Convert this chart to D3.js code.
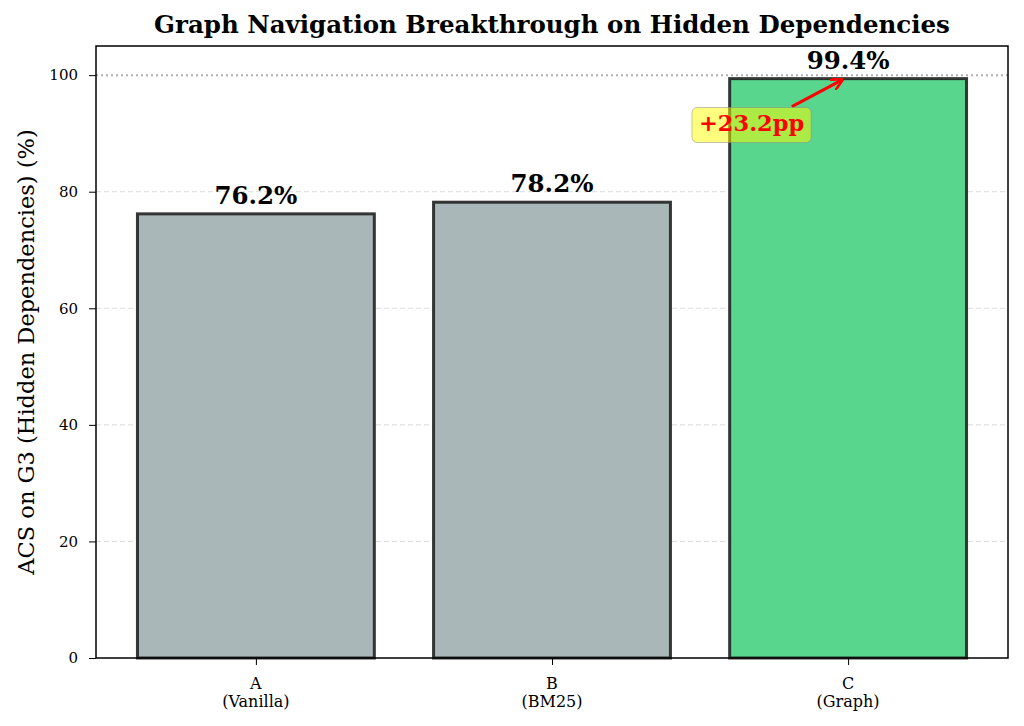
<!DOCTYPE html>
<html>
<head>
<meta charset="utf-8">
<script src="https://cdn.jsdelivr.net/npm/d3@7"></script>
<style>
  body { margin: 0; background: #fff; }
  text { font-family: "DejaVu Serif", serif; }
</style>
</head>
<body>
<svg id="chart" width="1024" height="726"></svg>
<script>
'use strict';

// data
var conditions = ['A', 'B', 'C'];
var conditionNames = ['(Vanilla)', '(BM25)', '(Graph)'];
var acsValues = [76.2, 78.2, 99.4];
var barColors = ['#aab7b8', '#aab7b8', '#58d68d'];
var yTicks = [0, 20, 40, 60, 80, 100];
var gainLabel = '+23.2pp';

var svg = d3.select('#chart');
var margin = {left: 96, right: 1008, top: 46, bottom: 658};

var x = d3.scaleLinear().domain([-0.54, 2.54]).range([margin.left, margin.right]);
var y = d3.scaleLinear().domain([0, 105]).range([margin.bottom, margin.top]);
var barW = x(0.8) - x(0);

// grid
svg.append('g').selectAll('line').data(yTicks.filter(function (t) { return t > 0 && t < 100; }))
    .enter().append('line')
    .attr('x1', margin.left).attr('x2', margin.right)
    .attr('y1', function (d) { return y(d); }).attr('y2', function (d) { return y(d); })
    .attr('stroke', '#dcdcdc').attr('stroke-width', 1).attr('stroke-dasharray', '5,3');

// reference line at 100
svg.append('line')
    .attr('x1', margin.left).attr('x2', margin.right)
    .attr('y1', y(100)).attr('y2', y(100))
    .attr('stroke', '#b0b0b0').attr('stroke-width', 2).attr('stroke-dasharray', '2,3');

// bars
svg.append('g').selectAll('rect').data(acsValues).enter().append('rect')
    .attr('x', function (d, i) { return x(i) - barW / 2; })
    .attr('y', function (d) { return y(d); })
    .attr('width', barW)
    .attr('height', function (d) { return y(0) - y(d); })
    .attr('fill', function (d, i) { return barColors[i]; })
    .attr('stroke', '#222').attr('stroke-opacity', 0.9).attr('stroke-width', 3);

// value labels
svg.append('g').selectAll('text').data(acsValues).enter().append('text')
    .attr('x', function (d, i) { return x(i); })
    .attr('y', function (d) { return y(d) - 10; })
    .attr('text-anchor', 'middle')
    .attr('font-size', 24.5).attr('font-weight', 'bold')
    .text(function (d) { return d.toFixed(1) + '%'; });

// axes
var yAxis = d3.axisLeft(y).tickValues(yTicks).tickSize(7).tickPadding(11);
var gy = svg.append('g').attr('transform', 'translate(' + margin.left + ',0)').call(yAxis);
gy.select('.domain').remove();
gy.selectAll('text').attr('font-size', 15).attr('font-family', 'DejaVu Serif');

var xAxis = d3.axisBottom(x).tickValues([0, 1, 2]).tickSize(7).tickFormat('');
svg.append('g').attr('transform', 'translate(0,' + margin.bottom + ')').call(xAxis)
    .select('.domain').remove();

var xl = svg.append('g').selectAll('text').data(conditions).enter().append('text')
    .attr('x', function (d, i) { return x(i); })
    .attr('y', 689)
    .attr('text-anchor', 'middle')
    .attr('font-size', 16);
xl.append('tspan').text(function (d) { return d; });
xl.append('tspan').attr('x', function (d, i) { return x(i); }).attr('dy', 18)
    .text(function (d, i) { return conditionNames[i]; });

// frame
svg.append('rect')
    .attr('x', margin.left).attr('y', margin.top)
    .attr('width', margin.right - margin.left).attr('height', margin.bottom - margin.top)
    .attr('fill', 'none').attr('stroke', '#000').attr('stroke-width', 1.5);

// annotation
var defs = svg.append('defs');
defs.append('marker').attr('id', 'arr').attr('viewBox', '0 0 10 10')
    .attr('refX', 9).attr('refY', 5).attr('markerWidth', 4).attr('markerHeight', 4)
    .attr('orient', 'auto')
    .append('path').attr('d', 'M0,0 L10,5 L0,10').attr('fill', 'none')
    .attr('stroke', 'red').attr('stroke-width', 2.2);

var tx = x(1.674), ty = y(90.5);
svg.append('line')
    .attr('x1', x(1.81)).attr('y1', y(94.6))
    .attr('x2', x(1.98)).attr('y2', y(99.2))
    .attr('stroke', 'red').attr('stroke-width', 3)
    .attr('marker-end', 'url(#arr)');

var ann = svg.append('g');
var annText = ann.append('text')
    .attr('x', tx).attr('y', ty)
    .attr('text-anchor', 'middle')
    .attr('font-size', 22.5).attr('font-weight', 'bold')
    .attr('fill', 'red')
    .text(gainLabel);
var bb = annText.node().getBBox();
ann.insert('rect', 'text')
    .attr('x', bb.x - 7).attr('y', bb.y - 2)
    .attr('width', bb.width + 14).attr('height', bb.height + 9)
    .attr('rx', 5)
    .attr('fill', 'yellow').attr('fill-opacity', 0.5)
    .attr('stroke', '#888').attr('stroke-opacity', 0.5);

// titles
svg.append('text')
    .attr('x', (margin.left + margin.right) / 2).attr('y', 33)
    .attr('text-anchor', 'middle')
    .attr('font-size', 24.5).attr('font-weight', 'bold')
    .text('Graph Navigation Breakthrough on Hidden Dependencies');

svg.append('text')
    .attr('transform', 'translate(34,' + ((margin.top + margin.bottom) / 2) + ') rotate(-90)')
    .attr('text-anchor', 'middle')
    .attr('font-size', 22.5)
    .text('ACS on G3 (Hidden Dependencies) (%)');
</script>
</body>
</html>
